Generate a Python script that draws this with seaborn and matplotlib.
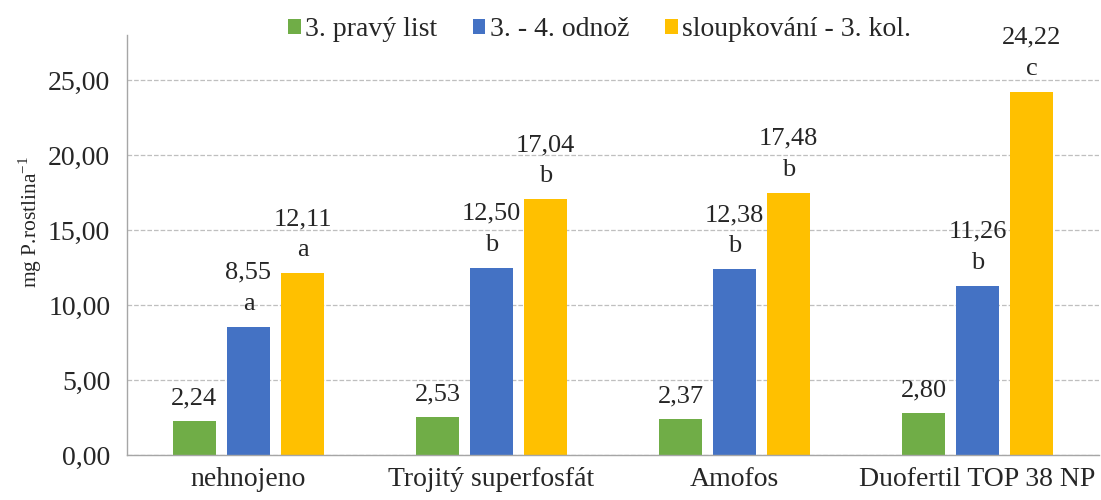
import seaborn as sns
import matplotlib.pyplot as plt
import pandas as pd

# data
categories = ['nehnojeno', 'Trojitý superfosfát', 'Amofos', 'Duofertil TOP 38 NP']
series = ['3. pravý list', '3. - 4. odnož', 'sloupkování - 3. kol.']
pravy_list = [2.24, 2.53, 2.37, 2.80]
odnoz = [8.55, 12.50, 12.38, 11.26]
sloupkovani = [12.11, 17.04, 17.48, 24.22]
letters_odnoz = ['a', 'b', 'b', 'b']
letters_sloupk = ['a', 'b', 'b', 'c']
colors = ['#70AD47', '#4472C4', '#FFC000']

df = pd.DataFrame({
    'kategorie': categories * 3,
    'faze': [s for s in series for _ in categories],
    'hodnota': pravy_list + odnoz + sloupkovani,
})

sns.set_style('white')
plt.rcParams['font.family'] = ['Liberation Serif', 'DejaVu Serif']

fig = plt.figure(figsize=(11.01, 5), dpi=100)
ax = fig.add_axes([0.1153, 0.09, 0.883, 0.84])

sns.barplot(data=df, x='kategorie', y='hodnota', hue='faze', palette=colors,
            width=0.667, gap=0.2, ax=ax, saturation=1, edgecolor='none', errorbar=None)

ax.set_ylim(0, 28)
ax.set_yticks([0, 5, 10, 15, 20, 25])
ax.set_yticklabels([f'{v:.2f}'.replace('.', ',') for v in [0, 5, 10, 15, 20, 25]], fontsize=20)
ax.tick_params(axis='x', labelsize=20, length=0, pad=9)
ax.tick_params(axis='y', length=0, pad=12)
ax.yaxis.grid(True, linestyle='--', color='#BFBFBF', linewidth=0.9)
ax.set_axisbelow(True)
ax.set_xlabel('')
ax.set_ylabel('mg P.rostlina$^{\\mathregular{-1}}$', fontsize=15.5)
ax.yaxis.set_label_coords(-0.085, 0.555)

for name in ['top', 'right']:
    ax.spines[name].set_visible(False)
for name in ['left', 'bottom']:
    ax.spines[name].set_color('#A6A6A6')
    ax.spines[name].set_linewidth(1.0)

# value labels, significance letter sits between value and bar
letters = [None, letters_odnoz, letters_sloupk]
for i, cont in enumerate(ax.containers):
    for j, bar in enumerate(cont):
        h = bar.get_height()
        xc = bar.get_x() + bar.get_width() / 2
        val_off = 16.5 if letters[i] is None else 39
        ax.annotate(f'{h:.2f}'.replace('.', ','), (xc, h), xytext=(0, val_off),
                    textcoords='offset points', ha='center', va='center', fontsize=19)
        if letters[i] is not None:
            ax.annotate(letters[i][j], (xc, h), xytext=(0, 16.5),
                        textcoords='offset points', ha='center', va='center', fontsize=19)

ax.legend(loc='center', bbox_to_anchor=(0.486, 1.013), ncol=3, frameon=False,
          fontsize=20, handlelength=0.45, handleheight=0.45, handletextpad=0.15,
          columnspacing=1.3)

fig.savefig('out.png', dpi=100)
